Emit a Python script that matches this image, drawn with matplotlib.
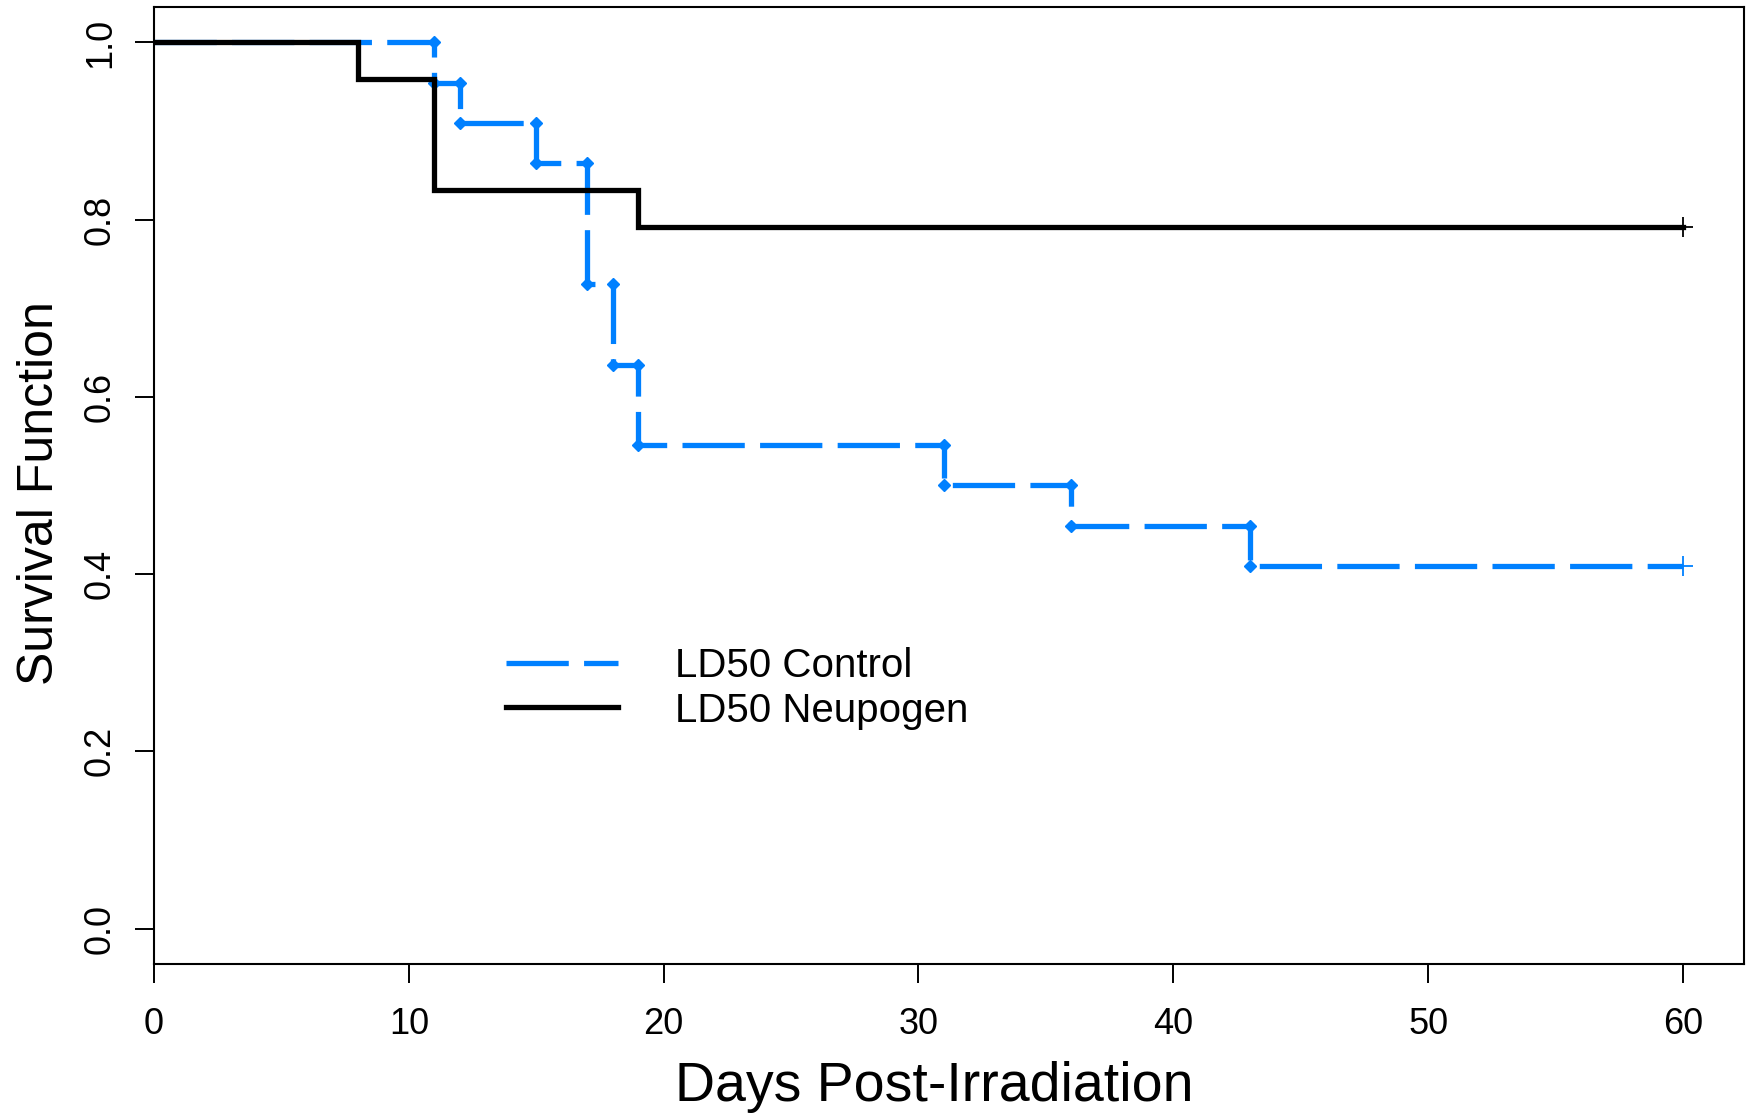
import numpy as np
import matplotlib
matplotlib.use("Agg")
import matplotlib.pyplot as plt

plt.rcParams['font.family'] = ['Liberation Sans', 'DejaVu Sans']

# Kaplan-Meier steps (n=22 control, n=24 Neupogen)
control_days = [0, 11, 12, 15, 17, 18, 19, 31, 36, 43, 60]
control_surv = [1.0, 0.9545, 0.9091, 0.8636, 0.7273, 0.6364, 0.5455,
                0.5, 0.4545, 0.4091, 0.4091]

neupogen_days = [0, 8, 11, 19, 60]
neupogen_surv = [1.0, 0.9583, 0.8333, 0.7917, 0.7917]

x_ticks = [0, 10, 20, 30, 40, 50, 60]
y_ticks = [0.0, 0.2, 0.4, 0.6, 0.8, 1.0]

blue = "#0080ff"
lw = 3.8

fig = plt.figure(figsize=(17.5, 11.13), dpi=100)
ax = fig.add_axes([0.088, 0.1339, 0.9086, 0.8598])

ax.plot(control_days, control_surv, drawstyle='steps-post', color=blue,
        lw=lw, dashes=(11.8, 2.9), label="LD50 Control",
        solid_joinstyle='miter', dash_capstyle='butt')

# small dots at both ends of each drop of the control curve
cd = np.array(control_days[1:-1])
top = np.array(control_surv[:-2])
bot = np.array(control_surv[1:-1])
ax.plot(np.r_[cd, cd], np.r_[top, bot], ls='none', marker='D', ms=6.5,
        color=blue)

ax.plot(neupogen_days, neupogen_surv, drawstyle='steps-post', color='black',
        lw=lw, label="LD50 Neupogen", solid_joinstyle='miter')

# censor marks at the end of follow-up
ax.plot([control_days[-1]], [control_surv[-1]], marker='+', ms=15, mew=1.3,
        color=blue, ls='none')
ax.plot([neupogen_days[-1]], [neupogen_surv[-1]], marker='+', ms=15, mew=1.3,
        color='black', ls='none')

ax.set_xlim(0, 62.4)
ax.set_ylim(-0.04, 1.04)
ax.set_xticks(x_ticks)
ax.set_xticklabels([str(t) for t in x_ticks])
ax.set_yticks(y_ticks)
ax.set_yticklabels([f"{t:.1f}" for t in y_ticks])
for lab in ax.get_yticklabels():
    lab.set_rotation(90)
    lab.set_va('center')

for s in ax.spines.values():
    s.set_linewidth(1.5)
ax.tick_params(axis='both', length=14, width=1.4, labelsize=26)
ax.tick_params(axis='x', pad=17)
ax.tick_params(axis='y', pad=12)

ax.set_xlabel("Days Post-Irradiation", fontsize=40)
ax.set_ylabel("Survival Function", fontsize=36)
ax.xaxis.set_label_coords(0.491, -0.101)
ax.yaxis.set_label_coords(-0.057, 0.492)

ax.legend(loc='center left', bbox_to_anchor=(0.211, 0.288), frameon=False,
          fontsize=29, handlelength=2.8, handletextpad=1.4,
          labelspacing=0.16, borderaxespad=0)

fig.savefig("out.png", dpi=100)
